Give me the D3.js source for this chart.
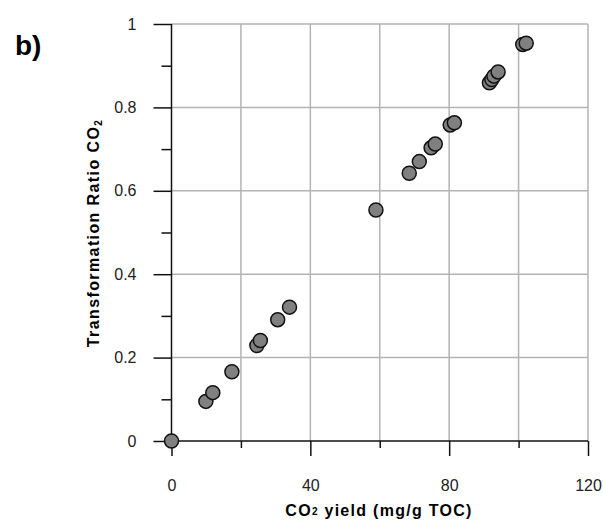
<!DOCTYPE html>
<html>
<head>
<meta charset="utf-8">
<script src="https://cdn.jsdelivr.net/npm/d3@7"></script>
<style>
  body { margin: 0; background: #fff; }
  svg { display: block; font-family: "Liberation Sans", Arial, sans-serif; }
</style>
</head>
<body>
<svg id="canvas"></svg>
<script>
// CO2 yield (mg/g TOC) vs transformation ratio
const yieldCO2 = [0, 9.9, 11.9, 17.4, 24.6, 25.6, 30.6, 34.0, 58.9, 68.5, 71.4, 74.8, 76.0, 80.3, 81.5, 91.6, 92.3, 92.9, 94.1, 101.2, 102.2];
const ratioCO2 = [0, 0.095, 0.116, 0.166, 0.229, 0.241, 0.291, 0.321, 0.554, 0.642, 0.670, 0.703, 0.712, 0.758, 0.763, 0.859, 0.867, 0.875, 0.885, 0.951, 0.954];

const xMajor = [0, 40, 80, 120];
const xMinor = [20, 60, 100];
const yMajor = [0, 0.2, 0.4, 0.6, 0.8, 1];
const yMinor = [0.1, 0.3, 0.5, 0.7, 0.9];

const width = 603,
    height = 523;

const svg = d3.select("#canvas")
    .attr("width", width)
    .attr("height", height);

const box = { left: 171.5, right: 588, top: 24, bottom: 441 };

const scaleX = d3.scaleLinear().domain([0, 120]).range([box.left, box.right]);
const scaleY = d3.scaleLinear().domain([0, 1]).range([box.bottom, box.top]);

// grid
const grid = svg.append("g").attr("stroke", "#b3b3b3").attr("stroke-width", 1.5);
grid.selectAll("line.gx")
    .data(xMajor.concat(xMinor).filter(d => d > 0))
    .join("line")
    .attr("x1", d => scaleX(d)).attr("x2", d => scaleX(d))
    .attr("y1", box.top).attr("y2", box.bottom);
grid.selectAll("line.gy")
    .data(yMajor.filter(d => d > 0))
    .join("line")
    .attr("x1", box.left).attr("x2", box.right)
    .attr("y1", d => scaleY(d)).attr("y2", d => scaleY(d));

// axes
function styleAxis(g) {
    g.select(".domain").remove();
    g.selectAll(".tick line").attr("stroke", "#111").attr("stroke-width", 1.5);
    g.selectAll(".tick text")
        .attr("fill", "#222")
        .style("font-size", "16px")
        .style("font-family", "'Liberation Sans', Arial, sans-serif");
}

svg.append("g")
    .attr("transform", `translate(${box.left},0)`)
    .call(d3.axisLeft(scaleY).tickValues(yMajor).tickSize(18).tickPadding(17)
        .tickFormat(d => d === 0 || d === 1 ? d3.format("d")(d) : d3.format(".1f")(d)))
    .call(styleAxis);
svg.append("g")
    .attr("transform", `translate(${box.left},0)`)
    .call(d3.axisLeft(scaleY).tickValues(yMinor).tickSize(10).tickFormat(""))
    .call(styleAxis);

svg.append("g")
    .attr("transform", `translate(0,${box.bottom})`)
    .call(d3.axisBottom(scaleX).tickValues(xMajor).tickSize(15).tickPadding(24))
    .call(styleAxis);
svg.append("g")
    .attr("transform", `translate(0,${box.bottom})`)
    .call(d3.axisBottom(scaleX).tickValues(xMinor).tickSize(7).tickFormat(""))
    .call(styleAxis);

// axis lines
svg.append("line")
    .attr("x1", box.left).attr("x2", box.left)
    .attr("y1", box.top).attr("y2", box.bottom)
    .attr("stroke", "#111").attr("stroke-width", 1.5);
svg.append("line")
    .attr("x1", box.left).attr("x2", box.right)
    .attr("y1", box.bottom).attr("y2", box.bottom)
    .attr("stroke", "#111").attr("stroke-width", 1.5);

// points
svg.append("g")
    .selectAll("circle")
    .data(d3.range(yieldCO2.length))
    .join("circle")
    .attr("cx", i => scaleX(yieldCO2[i]))
    .attr("cy", i => scaleY(ratioCO2[i]))
    .attr("r", 7)
    .attr("fill", "#808080")
    .attr("stroke", "#111")
    .attr("stroke-width", 1.5);

// stretch a title to the width it has in the picture
function spreadTo(text, target) {
    const n = text.text().length;
    const natural = text.node().getComputedTextLength();
    text.style("letter-spacing", `${(target - natural) / (n - 1)}px`);
}

// titles
const xTitle = svg.append("text")
    .attr("x", 379).attr("y", 516)
    .attr("text-anchor", "middle")
    .style("font-size", "16px").style("font-weight", "bold");
xTitle.append("tspan").text("CO");
xTitle.append("tspan").style("font-size", "10px").attr("dy", -1).text("2");
xTitle.append("tspan").attr("dy", 1).text(" yield (mg/g TOC)");
spreadTo(xTitle, 186);

const yTitle = svg.append("text")
    .attr("transform", "translate(99,233) rotate(-90)")
    .attr("text-anchor", "middle")
    .style("font-size", "16px").style("font-weight", "bold");
yTitle.append("tspan").text("Transformation Ratio CO");
yTitle.append("tspan").style("font-size", "10px").attr("dy", 3).text("2");
spreadTo(yTitle, 227);

svg.append("text")
    .attr("x", 15).attr("y", 55)
    .style("font-size", "28px").style("font-weight", "bold")
    .text("b)");
</script>
</body>
</html>
